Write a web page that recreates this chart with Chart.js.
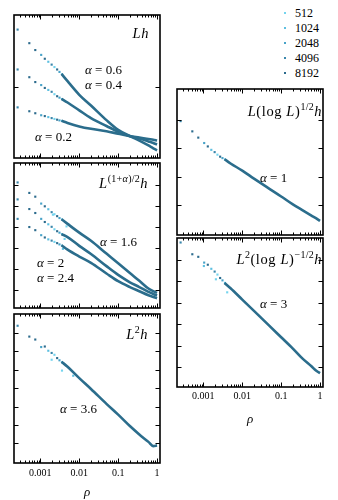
<!DOCTYPE html>
<html>
<head>
	<title>Scaled h vs rho</title>
	<script src="https://cdn.jsdelivr.net/npm/chart.js@4.4.0/dist/chart.umd.min.js"></script>
<style type="text/css">
body{
	margin: 0;
	background: #fff;
	width: 338px;
	height: 500px;
	position: relative;
	overflow: hidden;
	font-family: "Liberation Serif", serif;
}
canvas{
	position: absolute;
}
.lab{
	position: absolute;
	font-size: 13px;
	line-height: 14px;
	white-space: nowrap;
	color: #000;
}
.ttl{
	font-size: 14.5px;
	line-height: 16px;
	letter-spacing: 0.6px;
}
.ttl sup{
	font-size: 10px;
	vertical-align: 6px;
	line-height: 0;
	letter-spacing: 0.3px;
}
#legend{
	position: absolute;
	left: 282px;
	top: 6px;
	font-size: 12px;
}
#legend div{
	height: 15px;
	line-height: 15px;
	position: relative;
	padding-left: 13px;
}
#legend span{
	position: absolute;
	left: 2px;
	top: 6px;
	width: 2px;
	height: 2px;
}
</style>
</head>
<body>

<canvas id="p1" width="154" height="151" style="left:10px;top:11px"></canvas>
<canvas id="p2" width="154" height="153" style="left:10px;top:159px"></canvas>
<canvas id="p3" width="154" height="190" style="left:10px;top:310px"></canvas>
<canvas id="p4" width="154" height="154" style="left:173px;top:85px"></canvas>
<canvas id="p5" width="154" height="193" style="left:173px;top:234px"></canvas>

<div id="legend"></div>

<div class="lab ttl" style="right:189px;top:25px"><i>Lh</i></div>
<div class="lab" style="left:85px;top:63px"><i>α</i> = 0.6</div>
<div class="lab" style="left:85px;top:78px"><i>α</i> = 0.4</div>
<div class="lab" style="left:35px;top:130px"><i>α</i> = 0.2</div>

<div class="lab ttl" style="right:190px;top:175px"><i>L</i><sup>(1+<i>α</i>)/2</sup><i>h</i></div>
<div class="lab" style="left:100px;top:235px"><i>α</i> = 1.6</div>
<div class="lab" style="left:37px;top:256px"><i>α</i> = 2</div>
<div class="lab" style="left:37px;top:271px"><i>α</i> = 2.4</div>

<div class="lab ttl" style="right:190px;top:326px"><i>L</i><sup>2</sup><i>h</i></div>
<div class="lab" style="left:60px;top:402px"><i>α</i> = 3.6</div>

<div class="lab ttl" style="right:16px;top:103px"><i>L</i>(log <i>L</i>)<sup>1/2</sup><i>h</i></div>
<div class="lab" style="left:260px;top:171px"><i>α</i> = 1</div>

<div class="lab ttl" style="right:16px;top:251px"><i>L</i><sup>2</sup>(log <i>L</i>)<sup>−1/2</sup><i>h</i></div>
<div class="lab" style="left:260px;top:297px"><i>α</i> = 3</div>

<script type="text/javascript">

var sizes = ['512', '1024', '2048', '4096', '8192'];
var sizeColors = ['#74d4ee', '#5cbfe0', '#48a3c8', '#3886ab', '#2c6b8d'];
var lineColor = '#2b6d8c';

var xTicks = [0.001, 0.01, 0.1, 1];
var xTickLabels = ['0.001', '0.01', '0.1', '1'];

// dense part of the curves (all sizes overlap)
var rhoLine = [0.0035, 0.005, 0.01, 0.02, 0.05, 0.1, 0.2, 0.35, 0.6, 0.8, 1.0];
// sparse points at small rho
var rhoDots = [2.6e-4, 5.2e-4, 7.4e-4, 1.05e-3, 1.3e-3, 1.6e-3, 1.95e-3, 2.3e-3, 2.7e-3, 3.1e-3, 3.6e-3];
var dotSize = [3, 4, 4, 2, 4, 1, 3, 0, 4, 2, 1];

// Lh
var lhA06 = [0.588, 0.537, 0.442, 0.367, 0.265, 0.197, 0.153, 0.122, 0.088, 0.068, 0.054];
var lhA04 = [0.414, 0.388, 0.333, 0.279, 0.224, 0.184, 0.153, 0.136, 0.116, 0.105, 0.095];
var lhA02 = [0.260, 0.245, 0.221, 0.204, 0.187, 0.170, 0.153, 0.143, 0.133, 0.128, 0.122];
var lhA06Dots = [0.898, 0.803, 0.755, 0.721, 0.694, 0.673, 0.653, 0.636, 0.619, 0.602, 0.585];
var lhA04Dots = [0.619, 0.565, 0.531, 0.510, 0.490, 0.476, 0.463, 0.446, 0.432, 0.422, 0.412];
var lhA02Dots = [0.354, 0.327, 0.313, 0.299, 0.293, 0.286, 0.279, 0.273, 0.268, 0.263, 0.259];

// L^{(1+a)/2} h
var midA16 = [4.36, 4.14, 3.72, 3.33, 2.72, 2.26, 1.79, 1.42, 1.05, 0.93, 0.84];
var midA20 = [3.65, 3.51, 3.09, 2.70, 2.12, 1.70, 1.35, 1.12, 0.89, 0.79, 0.72];
var midA24 = [3.12, 2.91, 2.58, 2.28, 1.77, 1.40, 1.12, 0.92, 0.73, 0.65, 0.59];
var midA16Dots = [6.12, 5.62, 5.44, 5.11, 4.98, 4.84, 4.70, 4.60, 4.51, 4.42, 4.35];
var midA20Dots = [5.31, 4.85, 4.66, 4.38, 4.23, 4.12, 4.00, 3.88, 3.79, 3.72, 3.65];
var midA24Dots = [4.38, 3.99, 3.84, 3.60, 3.49, 3.40, 3.34, 3.28, 3.22, 3.16, 3.10];
var midLightRho = [2.1e-3, 4.7e-3, 4.2e-3, 3.8e-3];
var midLightY = [4.58, 4.02, 3.42, 2.95];
var midLightSize = [0, 0, 0, 1];

// L^2 h
var sqA36 = [5.44, 5.17, 4.55, 3.96, 3.15, 2.56, 1.94, 1.48, 1.08, 0.85, 0.89];
var sqA36Dots = [7.40, 6.81, 6.65, 6.24, 6.27, 6.04, 5.92, 5.82, 5.64, 5.52, 5.41];
var sqLightRho = [1.95e-3, 3.6e-3, 7e-3];
var sqLightY = [5.55, 4.96, 4.68];
var sqLightSize = [0, 0, 1];

// L (log L)^{1/2} h
var logA1 = [2.62, 2.47, 2.22, 1.94, 1.58, 1.31, 1.03, 0.83, 0.64, 0.54, 0.45];
var logA1Dots = [3.96, 3.60, 3.38, 3.19, 3.07, 2.95, 2.87, 2.78, 2.71, 2.66, 2.61];

// L^2 (log L)^{-1/2} h
var logA3 = [4.93, 4.68, 4.15, 3.62, 2.92, 2.39, 1.86, 1.40, 1.03, 0.82, 0.71];
var logA3Dots = [6.82, 6.27, 6.15, 5.88, 5.78, 5.59, 5.46, 5.32, 5.16, 5.05, 4.93];
var logLightRho = [1.03e-3, 2.1e-3, 4.1e-3];
var logLightY = [5.72, 5.10, 4.49];
var logLightSize = [1, 0, 0];

var framePlugin = {
	id: 'frame',
	afterDatasetsDraw: function(chart, args, opts) {
		var ctx = chart.ctx, a = chart.chartArea;
		var x = chart.scales.x, y = chart.scales.y;
		ctx.save();
		ctx.strokeStyle = '#000';
		ctx.lineWidth = 1;
		ctx.beginPath();
		for (var k = -4; k <= 0; k++) {
			for (var m = 1; m <= 9; m++) {
				var v = m * Math.pow(10, k);
				if (v < x.min || v > x.max) continue;
				var px = Math.round(x.getPixelForValue(v)) + 0.5;
				var len = m == 1 ? 4.5 : 2.5;
				ctx.moveTo(px, a.bottom); ctx.lineTo(px, a.bottom - len);
				ctx.moveTo(px, a.top); ctx.lineTo(px, a.top + len);
			}
		}
		opts.yTicks.forEach(function(t) {
			var py = Math.round(y.getPixelForValue(t)) + 0.5;
			ctx.moveTo(a.left, py); ctx.lineTo(a.left + 4.5, py);
			ctx.moveTo(a.right, py); ctx.lineTo(a.right - 4.5, py);
		});
		ctx.stroke();
		ctx.lineWidth = 1.6;
		ctx.strokeRect(a.left, a.top, a.right - a.left, a.bottom - a.top);
		ctx.restore();
	}
};

function makePanel(id, yMin, yMax, yTicks, lines, dots, light, axisHeight) {
	var datasets = [];
	lines.forEach(function(l) {
		datasets.push({
			data: rhoLine.map(function(r, i) { return {x: r, y: l[i]}; }),
			showLine: true,
			borderColor: lineColor,
			borderWidth: 2.6,
			pointRadius: 0,
			cubicInterpolationMode: 'monotone'
		});
	});
	for (var s = 0; s < sizes.length; s++) {
		var pts = [];
		dots.forEach(function(d) {
			rhoDots.forEach(function(r, i) {
				if (dotSize[i] == s) pts.push({x: r, y: d[i]});
			});
		});
		if (light) {
			light.rho.forEach(function(r, i) {
				if (light.size[i] == s) pts.push({x: r, y: light.y[i]});
			});
		}
		datasets.push({
			label: sizes[s],
			data: pts,
			pointStyle: 'rect',
			pointRadius: 1.5,
			borderWidth: 0,
			backgroundColor: sizeColors[s],
			borderColor: sizeColors[s]
		});
	}

	var xScale = {
		type: 'logarithmic',
		min: 2.1e-4,
		max: 1.19,
		display: false
	};
	if (axisHeight) {
		xScale.display = true;
		xScale.grid = {display: false, drawTicks: false};
		xScale.border = {display: false};
		xScale.ticks = {
			padding: axisHeight > 38 ? 3 : 4,
			color: '#000',
			autoSkip: false,
			maxRotation: 0,
			font: {family: 'Liberation Serif', size: 10},
			callback: function(v) {
				var i = xTicks.indexOf(v);
				return i < 0 ? '' : xTickLabels[i];
			}
		};
		xScale.title = {
			display: true,
			text: 'ρ',
			color: '#000',
			padding: 0,
			font: {family: 'Liberation Serif', size: 13, style: 'italic'}
		};
		xScale.afterBuildTicks = function(scale) {
			scale.ticks = xTicks.map(function(v) { return {value: v}; });
		};
		xScale.afterFit = function(scale) {
			scale.height = axisHeight;
		};
	}

	var ctx = document.getElementById(id).getContext('2d');
	return new Chart(ctx, {
		type: 'scatter',
		data: {datasets: datasets},
		options: {
			responsive: false,
			animation: false,
			devicePixelRatio: 1,
			events: [],
			layout: {padding: {left: 2, right: 2, top: 2, bottom: axisHeight ? 0 : 2}},
			scales: {
				x: xScale,
				y: {type: 'linear', min: yMin, max: yMax, display: false}
			},
			plugins: {
				legend: {display: false},
				tooltip: {enabled: false},
				frame: {yTicks: yTicks}
			}
		},
		plugins: [framePlugin]
	});
}

makePanel('p1', 0, 1, [0.5], [lhA06, lhA04, lhA02], [lhA06Dots, lhA04Dots, lhA02Dots], null, 0);
makePanel('p2', 0.12, 7.05, [1, 2, 3, 4, 5, 6], [midA16, midA20, midA24], [midA16Dots, midA20Dots, midA24Dots],
	{rho: midLightRho, y: midLightY, size: midLightSize}, 0);
makePanel('p3', -0.07, 8.04, [1, 2, 3, 4, 5, 6, 7], [sqA36], [sqA36Dots],
	{rho: sqLightRho, y: sqLightY, size: sqLightSize}, 37);
makePanel('p4', -0.045, 5.09, [1, 2, 3, 4], [logA1], [logA1Dots], null, 0);
makePanel('p5', 0.064, 7.03, [1, 2, 3, 4, 5, 6], [logA3], [logA3Dots],
	{rho: logLightRho, y: logLightY, size: logLightSize}, 40);

var legend = document.getElementById('legend');
sizes.forEach(function(s, i) {
	var row = document.createElement('div');
	row.innerHTML = '<span style="background:' + sizeColors[i] + '"></span>' + s;
	legend.appendChild(row);
});

</script>
</body>
</html>
